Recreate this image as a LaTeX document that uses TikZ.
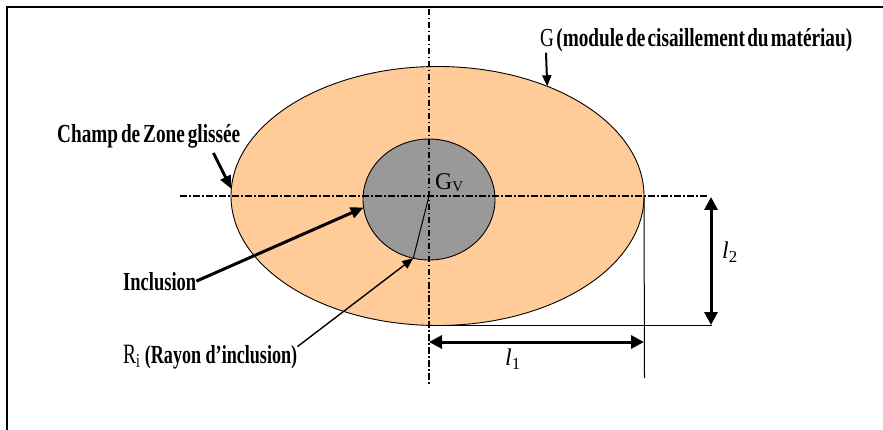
\documentclass[tikz,border=0pt]{standalone}
\usepackage{fontspec}
\setmainfont{Liberation Serif}
\usetikzlibrary{arrows.meta,shapes.geometric,calc}
\definecolor{peach}{HTML}{FFCC99}
\definecolor{inclgray}{HTML}{999999}
\newcommand\sqz[2]{\resizebox{#1}{\height}{#2}}
\begin{document}
\begin{tikzpicture}[x=1pt,y=-1pt,
  axisline/.style={line width=1.8pt, dash pattern=on 6.5pt off 2.5pt on 1.5pt off 2.5pt},
  lbl/.style={inner sep=0pt, anchor=base west, font=\fontsize{26}{26}\selectfont\bfseries},
  bigarrow/.style={line width=3pt, -{Triangle[length=13pt,width=11pt]}},
  midarrow/.style={line width=2pt, -{Triangle[length=11pt,width=9pt]}},
  thinarrow/.style={line width=1.4pt, -{Triangle[length=11pt,width=9pt]}},
  dimarrow/.style={line width=3pt, {Triangle[length=13pt,width=13pt]}-{Triangle[length=13pt,width=13pt]}},
  thinline/.style={line width=1pt},
  region/.style={ellipse, draw, line width=0.9pt, inner sep=0pt, outer sep=0pt}]
\useasboundingbox (0,0) rectangle (883,430);
% frame
\draw[line width=2pt] (7,430) -- (7,7) -- (883,7);
% regions
\node[region, fill=peach, minimum width=413pt, minimum height=259pt] (outer) at (437.5,196) {};
\node[region, fill=inclgray, minimum width=132pt, minimum height=121pt] (inner) at (429,199.5) {};
% axes
\coordinate (hL) at (180,196);
\coordinate (hR) at (708,196);
\coordinate (vT) at (429,9);
\coordinate (vB) at (429,386);
\coordinate (O) at (429,196);
\draw[axisline] (hL) -- (hR);
\draw[axisline] (vT) -- (vB);
% dimension lines
\coordinate (corner) at (712,325);
\coordinate (vlb) at (644.5,378);
\draw[thinline] (O |- corner) -- (corner);
\draw[thinline] (outer.east) -- (vlb);
\coordinate (l1a) at (429,342);
\coordinate (l1b) at (644,342);
\coordinate (l2a) at (711,197);
\coordinate (l2b) at (711,325);
\draw[dimarrow] (l1a) -- (l1b);
\draw[dimarrow] (l2a) -- (l2b);
\node[font=\fontsize{24}{24}\selectfont\itshape, inner sep=0pt] (l1) at (513,359) {l\textsubscript{\upshape 1}};
\node[font=\fontsize{24}{24}\selectfont\itshape, inner sep=0pt] (l2) at (730,252) {l\textsubscript{\upshape 2}};
% labels
\node[lbl] (glab) at (540,47) {\sqz{312pt}{\spaceskip=0.12em{\mdseries G} (module de cisaillement du matériau)}};
\node[lbl] (champ) at (57,143) {\sqz{183pt}{\spaceskip=0.15em Champ de Zone glissée}};
\node[lbl] (incl) at (123,290) {\sqz{73pt}{Inclusion}};
\node[lbl] (ri) at (123,363) {\sqz{174pt}{{\mdseries\fontsize{28}{28}\selectfont R\textsubscript{i}} (Rayon d’inclusion)}};
\node[inner sep=0pt, anchor=base west, font=\fontsize{24}{24}\selectfont] (gv) at (435,190) {\sqz{28pt}{G\raisebox{-2pt}{\fontsize{15}{15}\selectfont V}}};
% radius
\draw[line width=1pt] (O) -- (inner.255);
% arrows
\draw[midarrow] ($(glab.south west)+(6,0)$) -- (outer.45);
\draw[bigarrow] ($(champ.south east)+(-27,4)$) -- (outer.178);
\draw[bigarrow] (incl.east) -- (inner.187);
\draw[thinarrow] ($(ri.east)+(0,-10)$) -- (inner.255);
\end{tikzpicture}
\end{document}
